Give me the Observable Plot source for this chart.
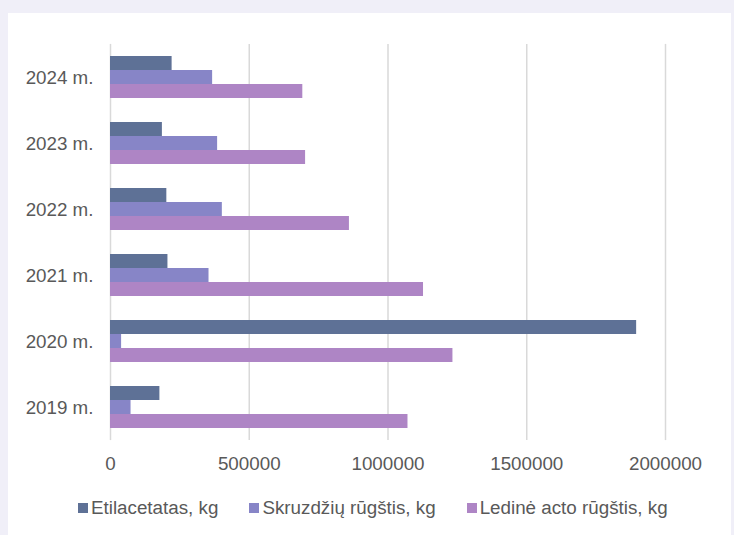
<!DOCTYPE html>
<html>
<head>
<meta charset="utf-8">
<script src="https://cdn.jsdelivr.net/npm/d3@7"></script>
<script src="https://cdn.jsdelivr.net/npm/@observablehq/plot@0.6"></script>
<style>
  body { margin: 0; background: #f0eff8; font-family: "Liberation Sans", Arial, sans-serif; }
  #wrap { position: relative; width: 734px; height: 535px; overflow: hidden; }
  #card { position: absolute; left: 8px; top: 13px; width: 723px; height: 522px; background: #fff; }
  #chart { position: absolute; left: 0; top: 0; }
  #legend { position: absolute; left: 78px; top: 497px; display: flex; gap: 31px; font-size: 18.8px; color: #595959; white-space: nowrap; }
  .item { display: flex; align-items: center; gap: 3px; }
  .sw { width: 10px; height: 10px; display: inline-block; }
</style>
</head>
<body>
<div id="wrap">
  <div id="card"></div>
  <div id="chart"></div>
  <div id="legend"></div>
</div>
<script>
// Years shown on the vertical axis (bottom to top)
const years = [2019, 2020, 2021, 2022, 2023, 2024];

// Series names and colours
const seriesNames = ["Etilacetatas, kg", "Skruzdžių rūgštis, kg", "Ledinė acto rūgštis, kg"];
const seriesColors = ["#5e7196", "#8785c7", "#ae85c5"];

// Quantities per year, kg
const etilacetatas = [178000, 1896000, 207000, 203000, 187000, 222000];
const skruzdziuRugstis = [74000, 40000, 355000, 403000, 386000, 368000];
const ledineActoRugstis = [1072000, 1234000, 1128000, 861000, 703000, 693000];

// Value axis ticks
const xTicks = [0, 500000, 1000000, 1500000, 2000000];

const seriesValues = [etilacetatas, skruzdziuRugstis, ledineActoRugstis];
const rows = years.flatMap((year, i) =>
  seriesNames.map((name, j) => ({ year, series: name, value: seriesValues[j][i] }))
);

const chart = Plot.plot({
  width: 734,
  height: 480,
  marginLeft: 110,
  marginRight: 69,
  marginTop: 43,
  marginBottom: 40,
  style: {
    background: "transparent",
    fontFamily: "'Liberation Sans', Arial, sans-serif",
    fontSize: "18.8px",
    color: "#595959",
    overflow: "visible"
  },
  x: {
    domain: [0, 2000000],
    ticks: xTicks,
    tickFormat: d => String(d),
    tickSize: 0,
    tickPadding: 28,
    label: null
  },
  fy: {
    domain: years.slice().reverse(),
    paddingInner: 0.366,
    paddingOuter: 0.183,
    axis: "left",
    tickSize: 0,
    tickPadding: 17,
    tickFormat: d => `${d} m.`,
    label: null
  },
  y: { domain: seriesNames, axis: null, padding: 0 },
  color: { domain: seriesNames, range: seriesColors },
  marks: [
    // gridlines repeated in every year band, stretched over the gaps between bands
    Plot.ruleX(xTicks, { x: d => d, stroke: "#d9d9d9", strokeWidth: 1.5, insetTop: -12.1, insetBottom: -12.1 }),
    Plot.barX(rows, { x: "value", y: "series", fy: "year", fill: "series" })
  ]
});
document.getElementById("chart").appendChild(chart);

// Legend below the plot
const legend = document.getElementById("legend");
seriesNames.forEach((name, j) => {
  const item = document.createElement("div");
  item.className = "item";
  const sw = document.createElement("span");
  sw.className = "sw";
  sw.style.background = seriesColors[j];
  const label = document.createElement("span");
  label.textContent = name;
  item.appendChild(sw);
  item.appendChild(label);
  legend.appendChild(item);
});
</script>
</body>
</html>
